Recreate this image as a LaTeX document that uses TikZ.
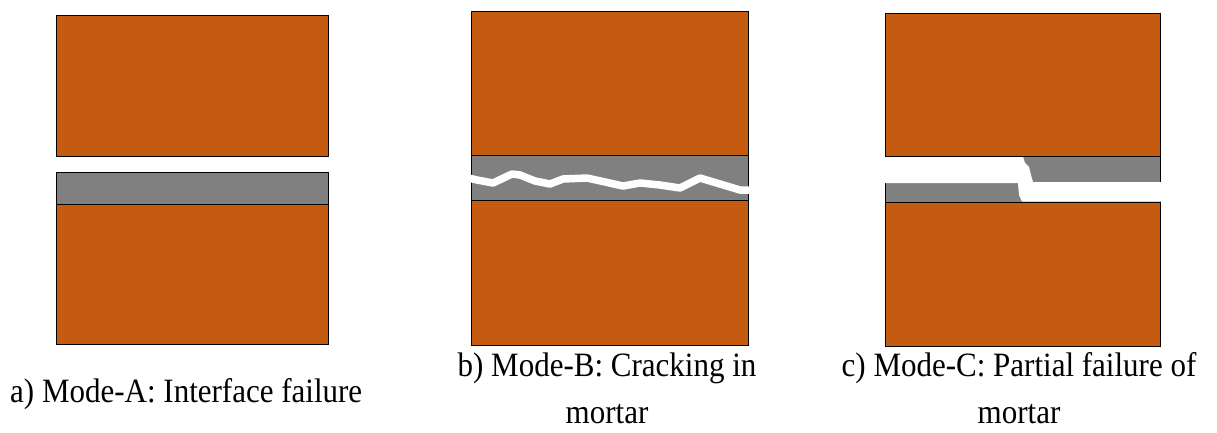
\documentclass[tikz,border=0pt]{standalone}
\usepackage{fontspec}
\setmainfont{Liberation Serif}
\definecolor{brick}{HTML}{C55A11}
\definecolor{mortar}{HTML}{808080}
\newcommand{\tallline}[1]{\scalebox{1}[1.1]{#1}}
\tikzset{
  brickblock/.style={fill=brick, draw=black, line width=0.9pt},
  mortarbed/.style={fill=mortar, draw=black, line width=0.9pt},
  gap/.style={fill=white, draw=none},
  crack/.style={draw=white, line width=7.5pt, line join=round, line cap=butt},
  caption/.style={font=\fontsize{31}{47}\selectfont, inner sep=0pt, align=center}
}
\begin{document}
\begin{tikzpicture}[x=1pt, y=-1pt]
\useasboundingbox (0,0) rectangle (1217,432);

% a) Mode-A: bond failure at the upper interface
\draw[brickblock] (56.5,15.5) rectangle (328,156);
\draw[mortarbed]  (56.5,172.5) rectangle (328,204.5);
\draw[brickblock] (56.5,204.5) rectangle (328,344.5);

% b) Mode-B: crack running through the mortar joint
\draw[brickblock] (471,11) rectangle (748,155);
\draw[mortarbed]  (471,155) rectangle (748,200.5);
\draw[brickblock] (471,200.5) rectangle (748,345);
\draw[crack] (460,176) -- (477,180) -- (493,183) -- (512,174) -- (520,175)
  -- (535,181) -- (550,184) -- (563,179) -- (587,178) -- (605,182)
  -- (623,186) -- (640,183) -- (660,185) -- (680,188) -- (700,178)
  -- (720,184) -- (740,190) -- (751,190);

% c) Mode-C: partial failure, the crack steps through the joint
\draw[brickblock] (885,13) rectangle (1160,156);
\draw[mortarbed]  (885,156) rectangle (1160,202);
\draw[brickblock] (885,202) rectangle (1160,346);
\fill[gap] (884,156.6) -- (1023,156.6) -- (1025,163) -- (1029,167) -- (1031,175)
  -- (1033,182) -- (1162,182) -- (1162,201.6) -- (1022,201.6) -- (1019,195)
  -- (1018,183) -- (884,183) -- cycle;
\draw[black, line width=0.9pt] (885,156) -- (1160,156);
\draw[black, line width=0.9pt] (885,202) -- (1021,202);

% captions
\node[caption, anchor=west] (capa) at (10,394) {\tallline{a) Mode-A: Interface failure}};
\node[caption] (capb) at (607,388) {\tallline{b) Mode-B: Cracking in}\\\tallline{mortar}};
\node[caption] (capc) at (1019,388) {\tallline{c) Mode-C: Partial failure of}\\\tallline{mortar}};
\end{tikzpicture}
\end{document}
